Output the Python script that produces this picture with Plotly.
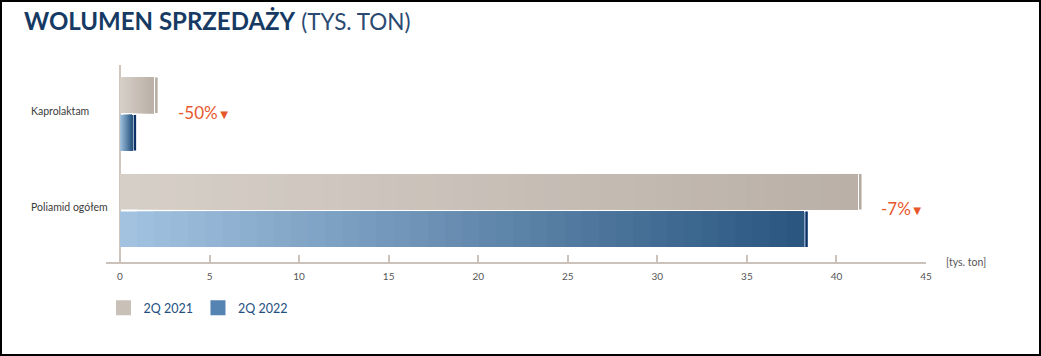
import plotly.graph_objects as go

# ---------------- data ----------------
categories = ["Kaprolaktam", "Poliamid ogółem"]
series_names = ["2Q 2021", "2Q 2022"]
vol_2q2021 = [2.1, 41.4]
vol_2q2022 = [0.9, 38.4]
change_labels = ["-50%", "-7%"]
x_tick_vals = [0, 5, 10, 15, 20, 25, 30, 35, 40, 45]
x_unit_label = "[tys. ton]"

# ---------------- style ----------------
FONT = "Lato"
N_SEG = 40          # gradient steps per bar
CAP_W = 0.14        # width of the end-cap (data units)
CAP_GAP = 0.07      # white gap before the end-cap
styles = [
    dict(left=(214, 207, 200), right=(186, 176, 167), cap=(180, 171, 162), legend="#c9c0b8", group="a"),
    dict(left=(162, 194, 224), right=(42, 86, 128), cap=(10, 50, 102), legend="#5583b2", group="b"),
]

W, H = 1041, 356
ML, MR, MT, MB = 106, 115, 65, 94
PW, PH = W - ML - MR, H - MT - MB


def lerp(c0, c1, t):
    return "rgb({},{},{})".format(*[round(a + (b - a) * t) for a, b in zip(c0, c1)])


fig = go.Figure()
for name, vals, st in zip(series_names, [vol_2q2021, vol_2q2022], styles):
    body = [v - CAP_W - CAP_GAP for v in vals]
    for k in range(N_SEG):
        t = k / (N_SEG - 1)
        fig.add_trace(go.Bar(
            y=categories, x=[b * (1 - k / N_SEG) for b in body], base=[b * k / N_SEG for b in body],
            orientation="h", offsetgroup=st["group"], marker=dict(color=lerp(st["left"], st["right"], t), line_width=0),
            showlegend=False, hoverinfo="skip",
        ))
    # end cap
    fig.add_trace(go.Bar(
        y=categories, x=[CAP_W] * len(vals), base=[v - CAP_W for v in vals],
        orientation="h", offsetgroup=st["group"], marker=dict(color="rgb({},{},{})".format(*st["cap"]), line_width=0),
        showlegend=False, hoverinfo="skip",
    ))
    # legend entry
    fig.add_trace(go.Scatter(
        y=[None], x=[None], mode="markers", name=name,
        marker=dict(symbol="square", size=15, color=st["legend"], line_width=0), showlegend=True,
    ))

annotations = []
# change labels
for cat, a, b, lbl in zip(categories, vol_2q2021, vol_2q2022, change_labels):
    annotations.append(dict(
        x=max(a, b) + 1.0, y=cat, xref="x", yref="y", xanchor="left", yanchor="middle", yshift=2,
        text=f"{lbl}<span style='font-size:13px'>▼</span>", showarrow=False,
        font=dict(family=FONT, size=17, color="#e8572c"),
    ))
# category labels, left aligned
for cat in categories:
    annotations.append(dict(
        x=(29 - ML) / PW, y=cat, xref="paper", yref="y", xanchor="left", yanchor="middle", yshift=3,
        text=cat, showarrow=False, font=dict(family=FONT, size=10.5, color="#3c3c3c"),
    ))
# unit label
annotations.append(dict(
    x=(944 - ML) / PW, y=0, xref="paper", yref="paper", xanchor="left", yanchor="middle",
    text=x_unit_label, showarrow=False, font=dict(family=FONT, size=10.5, color="#555555"),
))
# title
annotations.append(dict(
    x=(22 - ML) / PW, y=1 + (MT - 20) / PH, xref="paper", yref="paper", xanchor="left", yanchor="middle",
    text="<b>WOLUMEN SPRZEDAŻY</b> <span style='color:#2b4a72;font-size:22.5px'>(TYS. TON)</span>", showarrow=False,
    font=dict(family=FONT, size=24, color="#163a63"),
))

fig.update_layout(
    width=W, height=H,
    margin=dict(l=ML, r=MR, t=MT, b=MB, pad=0),
    paper_bgcolor="white", plot_bgcolor="white",
    barmode="group", bargap=0.223, bargroupgap=0.05,
    showlegend=True,
    legend=dict(
        orientation="h", x=(103.5 - ML) / PW, y=-(293 - (MT + PH)) / PH, xanchor="left", yanchor="top",
        font=dict(family=FONT, size=12.5, color="#24507f"), bgcolor="rgba(0,0,0,0)",
        itemwidth=30, traceorder="normal",
    ),
    xaxis=dict(
        range=[-14 / ((PW - 14) / 45), 45], tickvals=x_tick_vals, ticktext=[str(v) for v in x_tick_vals],
        showgrid=False, showline=True, linecolor="#cbc3bb", linewidth=1.5,
        ticks="inside", ticklen=7, tickcolor="#cbc3bb", tickwidth=1.5, ticklabelstandoff=4,
        tickfont=dict(family=FONT, size=10, color="#555555"),
        zeroline=True, zerolinecolor="#cfc7bf", zerolinewidth=1.5,
    ),
    yaxis=dict(
        type="category", categoryorder="array", categoryarray=categories,
        range=[1.534, -0.508], showticklabels=False, showgrid=False, showline=False, ticks="", zeroline=False,
    ),
    shapes=[dict(
        type="rect", xref="paper", yref="paper", layer="above",
        x0=-(ML - 1) / PW, x1=1 + (MR - 1) / PW, y0=-(MB - 1) / PH, y1=1 + (MT - 1) / PH,
        line=dict(color="black", width=2), fillcolor="rgba(0,0,0,0)",
    )],
    annotations=annotations,
)

fig.write_html(
    "out.html",
    config={"displayModeBar": False},
    post_script="document.body.style.margin='0';document.body.style.overflow='hidden';",
)
